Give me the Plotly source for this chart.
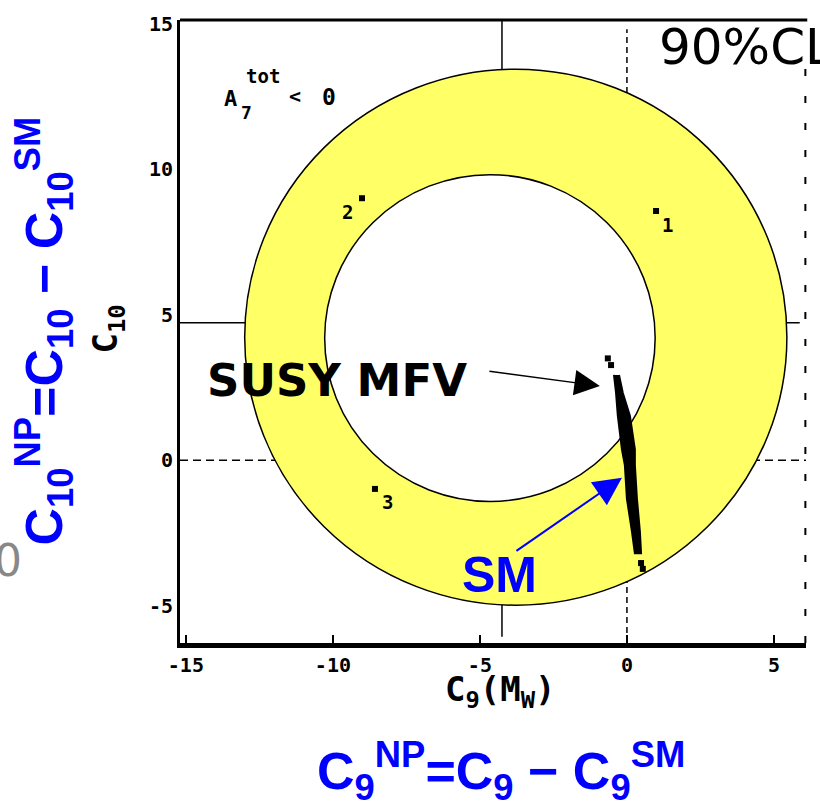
import plotly.graph_objects as go

# ---- axis ticks ----
x_ticks = [-15, -10, -5, 0, 5]
x_tick_text = ["-15", "-10", "-5", "0", "5"]
y_ticks = [-5, 0, 5, 10, 15]
y_tick_text = ["-5", "0", "5", "10", "15"]

# ---- 90% CL allowed ring (centre C9, centre C10, radius) ----
ring_outer = [-3.78, 4.23, 9.22]
ring_inner = [-4.66, 4.20, 5.62]

# ---- reference lines ----
sm_point = [0.0, 0.0]          # dashed cross: C9^NP = 0, C10^NP = 0
ring_cross = [-4.25, 4.73]     # solid cross through the ring

# ---- SUSY MFV scan: band edges at given C10 levels ----
mfv_c10 = [2.93, 2.31, 1.53, 0.37, -0.17, -1.33, -2.45, -3.20]
mfv_c9_left = [-0.44, -0.37, -0.31, -0.17, -0.07, 0.00, 0.17, 0.27]
mfv_c9_right = [-0.27, -0.14, 0.10, 0.27, 0.27, 0.34, 0.44, 0.48]
# isolated scan points at both ends of the band
mfv_tail_c9 = [-0.65, -0.54, 0.48, 0.54]
mfv_tail_c10 = [3.50, 3.27, -3.54, -3.74]

# ---- numbered solutions ----
sol_c9 = [0.99, -9.01, -8.57]
sol_c10 = [8.57, 9.01, -0.99]
sol_labels = ["1", "2", "3"]

X_RANGE = [-15.2, 6.09]
Y_RANGE = [-6.29, 15.14]

# page geometry of the plotting area (pixels)
L, R, T, B = 180, 806, 13, 643


def px_x(p):
    return (p - L) / (R - L)


def px_y(p):
    return (B - p) / (B - T)


def label(text, x, y, family, size, color="black", angle=0, xanchor="center"):
    return dict(x=px_x(x), y=px_y(y), xref="paper", yref="paper", text=text,
                showarrow=False, xanchor=xanchor, yanchor="middle", textangle=angle,
                font=dict(family=family, size=size, color=color))


fig = go.Figure()

# SUSY MFV band as a filled outline
band_x = mfv_c9_left + mfv_c9_right[::-1]
band_y = mfv_c10 + mfv_c10[::-1]
fig.add_trace(go.Scatter(
    x=band_x, y=band_y, mode="lines", fill="toself",
    fillcolor="black", line=dict(color="black", width=2),
    hoverinfo="skip", showlegend=False))
fig.add_trace(go.Scatter(
    x=mfv_tail_c9, y=mfv_tail_c10, mode="markers",
    marker=dict(symbol="square", size=6, color="black"),
    hoverinfo="skip", showlegend=False))

# numbered solutions
fig.add_trace(go.Scatter(
    x=sol_c9, y=sol_c10, mode="markers",
    marker=dict(symbol="square", size=6, color="black"),
    hoverinfo="skip", showlegend=False))

shapes = []
# allowed ring
cx, cy, r = ring_outer
shapes.append(dict(type="circle", xref="x", yref="y", layer="below",
                   x0=cx - r, x1=cx + r, y0=cy - r, y1=cy + r,
                   fillcolor="#FFFF66", line=dict(color="black", width=1.5)))
cx, cy, r = ring_inner
shapes.append(dict(type="circle", xref="x", yref="y", layer="below",
                   x0=cx - r, x1=cx + r, y0=cy - r, y1=cy + r,
                   fillcolor="white", line=dict(color="black", width=1.5)))
# dashed cross at the SM point
shapes.append(dict(type="line", xref="x", yref="paper", layer="below",
                   x0=sm_point[0], x1=sm_point[0], y0=0, y1=0.985,
                   line=dict(color="black", width=1.5, dash="6px,4px")))
shapes.append(dict(type="line", xref="paper", yref="y", layer="below",
                   x0=0, x1=1, y0=sm_point[1], y1=sm_point[1],
                   line=dict(color="black", width=1.5, dash="8px,5px")))
# solid cross
shapes.append(dict(type="line", xref="x", yref="paper", layer="below",
                   x0=ring_cross[0], x1=ring_cross[0], y0=0.01, y1=1,
                   line=dict(color="black", width=1.5)))
shapes.append(dict(type="line", xref="paper", yref="y", layer="below",
                   x0=0, x1=0.99, y0=ring_cross[1], y1=ring_cross[1],
                   line=dict(color="black", width=1.5)))
# frame: top and dotted right edge
shapes.append(dict(type="line", xref="paper", yref="paper",
                   x0=0, x1=1.002, y0=1, y1=1,
                   line=dict(color="black", width=3)))
shapes.append(dict(type="line", xref="paper", yref="paper",
                   x0=0.999, x1=0.999, y0=0, y1=0.94,
                   line=dict(color="black", width=2, dash="7px,20px")))

pix = "DejaVu Sans Mono"
annotations = []

# numbered solution labels
offsets = {"1": (11, -14), "2": (-15, -14), "3": (13, -13)}
for c9, c10, lab in zip(sol_c9, sol_c10, sol_labels):
    dx, dy = offsets[lab]
    annotations.append(dict(x=c9, y=c10, xref="x", yref="y", text="<b>%s</b>" % lab,
                            showarrow=False, xshift=dx, yshift=dy,
                            xanchor="center", yanchor="middle",
                            font=dict(family=pix, size=19, color="black")))

# A_7^tot < 0
for text, x, y, size in [("A", 230, 92, 22), ("tot", 263, 70, 19), ("7", 246, 107, 18),
                         ("<", 295, 90, 20), ("0", 329, 91, 23)]:
    annotations.append(label("<b>%s</b>" % text, x, y, pix, size))

# original axis titles
annotations.append(label("<b>C<sub>9</sub>(M<sub>W</sub>)</b>", 500, 692, pix, 34))
annotations.append(label("<b>C<sub>10</sub></b>", 108, 326, pix, 34, angle=-90))

# confidence level tag
annotations.append(label("90%CL", 657, 40, "DejaVu Sans", 50, xanchor="left"))

# SUSY MFV label and arrow
annotations.append(label("<b>SUSY MFV</b>", 337, 378, "DejaVu Sans", 45))
annotations.append(dict(x=-0.92, y=2.55, xref="x", yref="y", text="",
                        showarrow=True, ax=-112, ay=-15,
                        arrowhead=2, arrowsize=3.4, arrowwidth=1.5, arrowcolor="black"))

# SM label and arrow
annotations.append(label("<b>SM</b>", 499, 574, "Liberation Sans", 50, color="#0000FF"))
annotations.append(dict(x=-0.17, y=-0.61, xref="x", yref="y", text="",
                        showarrow=True, ax=-107, ay=74,
                        arrowhead=2, arrowsize=2.8, arrowwidth=2, arrowcolor="#0000FF"))

# new-physics axis titles
annotations.append(label(
    "<b>C<sub>9</sub><sup>NP</sup>=C<sub>9</sub> \u2212 C<sub>9</sub><sup>SM</sup></b>",
    501, 772, "Liberation Sans", 52, color="#0000FF"))
annotations.append(label(
    "<b>C<sub>10</sub><sup>NP</sup>=C<sub>10</sub> \u2212 C<sub>10</sub><sup>SM</sup></b>",
    44, 328, "Liberation Sans", 52, color="#0000FF", angle=-90))

# stray grey zero at the left margin
annotations.append(label("0", 8, 560, "DejaVu Sans", 44, color="#888888"))

fig.update_layout(
    width=820, height=802,
    margin=dict(l=L, r=820 - R, t=T, b=802 - B, pad=0),
    paper_bgcolor="white", plot_bgcolor="white",
    showlegend=False,
    shapes=shapes, annotations=annotations,
    xaxis=dict(range=X_RANGE, tickvals=x_ticks, ticktext=x_tick_text,
               showgrid=False, zeroline=False, showline=True, linewidth=5,
               linecolor="black", ticks="inside", ticklen=8, tickwidth=2,
               tickcolor="black",
               tickfont=dict(family=pix, size=20, color="black", weight="bold")),
    yaxis=dict(range=Y_RANGE, tickvals=y_ticks, ticktext=y_tick_text,
               showgrid=False, zeroline=False, showline=True, linewidth=3,
               linecolor="black", ticks="",
               tickfont=dict(family=pix, size=20, color="black", weight="bold")),
)

fig.write_html("out.html")
